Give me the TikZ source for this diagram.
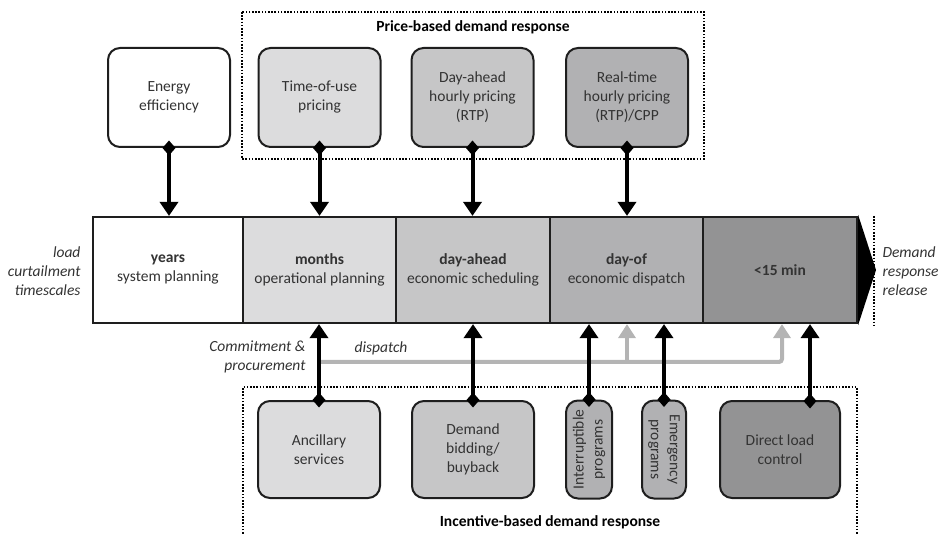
\documentclass[tikz,border=0pt]{standalone}
\usepackage{fontspec}
\setmainfont{Carlito}
\usetikzlibrary{arrows.meta,calc}

\definecolor{txt}{HTML}{333333}
\definecolor{edge}{HTML}{1E1E1E}
\definecolor{shA}{HTML}{DCDCDD}
\definecolor{shB}{HTML}{C6C6C7}
\definecolor{shC}{HTML}{B1B1B3}
\definecolor{shD}{HTML}{939394}
\definecolor{dispgray}{HTML}{B4B4B4}

\tikzset{
  base/.style={font=\fontsize{15.5}{19}\selectfont, text=txt, align=center},
  slot/.style={base, draw=edge, line width=2.2pt, minimum height=106pt, inner sep=0pt},
  card/.style={base, draw=edge, line width=2pt, rounded corners=12pt,
               minimum width=122pt, minimum height=99pt, inner sep=2pt},
  slim/.style={card, minimum width=46pt, minimum height=98pt},
  link/.style={line width=4pt, draw=black,
               {Diamond[length=15pt,width=13pt]}-{Triangle[length=14pt,width=18pt]},
               shorten <=-7.5pt},
  disp/.style={line width=4pt, draw=dispgray, rounded corners=3pt},
  disptip/.style={disp, -{Triangle[length=14pt,width=17pt]}},
  group/.style={draw=black, line width=1.6pt, dash pattern=on 1.6pt off 1.6pt},
  side/.style={font=\fontsize{15.5}{19}\selectfont\itshape, text=txt},
  grouptitle/.style={font=\fontsize{15.5}{19}\selectfont\bfseries, text=black}
}

\begin{document}
\begin{tikzpicture}[x=1pt, y=-1pt]
\useasboundingbox (0,0) rectangle (942,534);

% timescale bar
\node[slot, fill=white, minimum width=150pt] (yrs) at (168,270)
  {\textbf{years}\\system planning};
\node[slot, fill=shA, minimum width=153pt] (mon) at (319.5,270)
  {\textbf{months}\\operational planning};
\node[slot, fill=shB, minimum width=154pt] (dah) at (473,270)
  {\textbf{day-ahead}\\economic scheduling};
\node[slot, fill=shC, minimum width=153pt] (dof) at (626.5,270)
  {\textbf{day-of}\\economic dispatch};
\node[slot, fill=shD, minimum width=154pt] (m15) at (780,270)
  {\textbf{<15 min}};
\fill[black] (m15.north east) -- ++(0,-1.1) -- (876,270) -- ($(m15.south east)+(0,1.1)$) -- cycle;

% release marker
\coordinate (relT) at (874,216);
\coordinate (relB) at (874,326);
\draw[line width=2.2pt, dash pattern=on 1.6pt off 1.6pt] (relT) -- (relB);

\node[side, align=right, anchor=east] (lct) at (84,271)
  {load\\curtailment\\timescales};
\node[side, align=left, anchor=west] (drr) at (879,271)
  {Demand\\response\\release};

% price-based group
\draw[group] (242,12) rectangle (704,159);
\node[grouptitle] (pbt) at (473,27) {Price-based demand response};

\node[card, fill=white] (ee) at (169,97.5) {Energy\\efficiency};
\node[card, fill=shA] (tou) at (319.5,97.5) {Time-of-use\\pricing};
\node[card, fill=shB] (dahp) at (472.5,97.5) {Day-ahead\\hourly pricing\\(RTP)};
\node[card, fill=shC] (rtp) at (627,97.5) {Real-time\\hourly pricing\\(RTP)/CPP};

\draw[link] (ee.south) -- (ee.south |- yrs.north);
\draw[link] (tou.south) -- (tou.south |- mon.north);
\draw[link] (dahp.south) -- (dahp.south |- dah.north);
\draw[link] (rtp.south) -- (rtp.south |- dof.north);

% incentive-based group
\draw[group] (243,540) -- (243,387) -- (857,387) -- (857,540);
\node[grouptitle] (ibt) at (550,522) {Incentive-based demand response};

\node[card, fill=shA, minimum height=97pt] (anc) at (319,449.5) {Ancillary\\services};
\node[card, fill=shB, minimum height=97pt] (dbb) at (473,449.5) {Demand\\bidding/\\buyback};
\node[slim, fill=shC] (intp) at (589,449.5) {};
\node[base, rotate=90] (intt) at (intp.center) {Interruptible\\programs};
\node[slim, fill=shC, minimum width=44pt] (emp) at (664,449.5) {};
\node[base, rotate=-90] (emt) at (emp.center) {Emergency\\programs};
\node[card, fill=shD, minimum width=120pt, minimum height=97pt] (dlc) at (780,449.5) {Direct load\\control};

% dispatch signals
\coordinate (dspL) at (321,362);
\coordinate (dspR) at (782,362);
\coordinate (dspM) at (627,362);
\draw[disptip] (dspL) -- (dspR) -- (dspR |- m15.south);
\draw[disptip] (dspM) -- (dspM |- dof.south);

\node[side, align=right, anchor=east] (cpl) at (309,357) {Commitment \&\\procurement};
\node[side] (dspl) at (381,348) {dispatch};

% incentive programme links
\coordinate (dlcA) at (810,401);
\draw[link] (anc.north) -- (anc.north |- mon.south);
\draw[link] (dbb.north) -- (dbb.north |- dah.south);
\draw[link] (intp.north) -- (intp.north |- dof.south);
\draw[link] (emp.north) -- (emp.north |- dof.south);
\draw[link] (dlcA) -- (dlcA |- m15.south);
\end{tikzpicture}
\end{document}
